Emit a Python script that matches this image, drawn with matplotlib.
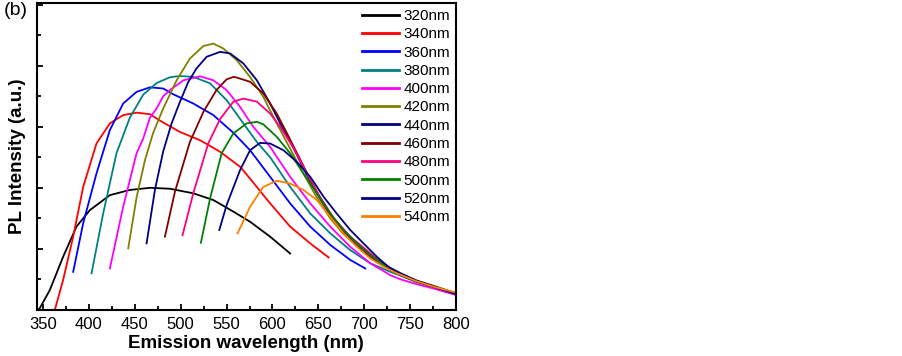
import numpy as np
import matplotlib
matplotlib.use('Agg')
import matplotlib.pyplot as plt
from matplotlib.ticker import MultipleLocator, NullFormatter

plt.rcParams['font.family'] = ['Liberation Sans', 'DejaVu Sans']

# ── Data (x = wavelength nm, y = intensity a.u.) ─────────────────────────────
labels = ['320nm', '340nm', '360nm', '380nm', '400nm', '420nm',
          '440nm', '460nm', '480nm', '500nm', '520nm', '540nm']
colors = ['#000000', '#FF0000', '#0000FF', '#008080', '#FF00FF', '#808000',
          '#000080', '#800000', '#FF0080', '#008000', '#000080', '#FF8000']

x320 = [344.5, 346.4, 357.3, 371.8, 386.4, 401, 422.8, 444.6, 466.5, 488.3,
        513.7, 535.6, 557.4, 575.6, 597.5, 619.3]
y320 = [0.0, 0.06, 0.65, 1.74, 2.73, 3.27, 3.76, 3.93, 4.0, 3.97,
        3.82, 3.6, 3.22, 2.89, 2.4, 1.85]

x340 = [362.7, 363.8, 371.8, 382.8, 393.7, 408.2, 422.8, 437.3, 451.9, 466.5,
        477.4, 499, 521, 542.9, 564.7, 575.6, 597.5, 619.3, 641.2, 661.2]
y340 = [0.0, 0.11, 0.98, 2.4, 4.03, 5.45, 6.11, 6.38, 6.46, 6.41,
        6.2, 5.83, 5.56, 5.18, 4.69, 4.3, 3.49, 2.73, 2.18, 1.72]

x360 = [382.8, 393.7, 408.2, 422.8, 437.3, 451.9, 466.5, 481, 492, 513.7,
        535.6, 557.4, 575.6, 597.5, 619.3, 641.2, 663, 684.8, 701.2]
y360 = [1.25, 2.84, 4.47, 5.89, 6.76, 7.14, 7.29, 7.25, 7.06, 6.76,
        6.38, 5.8, 5.23, 4.36, 3.49, 2.73, 2.13, 1.64, 1.36]

x380 = [402.8, 415.5, 430, 444.6, 459.2, 473.8, 488.3, 499, 513.7, 532,
        550, 568.3, 583, 597.5, 619.3, 641.2, 663, 684.8, 706.6, 728.5,
        740, 758, 776, 800]
y380 = [1.2, 3.16, 5.13, 6.3, 7.05, 7.43, 7.62, 7.66, 7.63, 7.42,
        6.87, 6.11, 5.5, 5.0, 4.03, 3.16, 2.51, 1.96, 1.53, 1.25,
        1.12, 0.9, 0.74, 0.53]

x400 = [422.8, 437.3, 451.9, 459, 466.5, 473.8, 481, 488.3, 503, 521,
        535.6, 550, 564.7, 579, 597.5, 619.3, 641.2, 663, 684.8, 706.6,
        728.5, 740, 758, 776, 800]
y400 = [1.36, 3.38, 5.13, 5.6, 6.3, 6.6, 7.0, 7.2, 7.52, 7.65,
        7.52, 7.2, 6.65, 6.0, 5.34, 4.36, 3.49, 2.73, 2.07, 1.53,
        1.14, 1.0, 0.84, 0.7, 0.49]

x420 = [442.8, 452, 461, 470, 481, 495.6, 510, 524.6, 535.6, 546.5,
        561, 575.6, 590, 604.7, 619, 634, 648, 663, 677, 692,
        706, 721, 740, 758, 776, 800]
y420 = [2.02, 3.7, 4.9, 5.8, 6.6, 7.52, 8.23, 8.64, 8.72, 8.56,
        8.18, 7.63, 6.98, 6.11, 5.3, 4.45, 3.7, 3.0, 2.5, 2.1,
        1.75, 1.48, 1.18, 0.96, 0.79, 0.55]

x440 = [462.8, 472, 481, 490, 499, 508, 517, 528.3, 542.9, 553.8,
        568.3, 583, 597.5, 608.4, 623, 637, 652, 667, 685, 703,
        721, 740, 758, 776, 800]
y440 = [2.18, 3.95, 5.2, 6.1, 6.8, 7.45, 7.9, 8.29, 8.45, 8.4,
        8.07, 7.52, 6.76, 6.11, 5.3, 4.45, 3.65, 2.95, 2.35, 1.9,
        1.5, 1.2, 0.95, 0.78, 0.52]

x460 = [482.8, 493.7, 510, 525, 539, 550, 557.4, 561, 575.6, 590,
        604.7, 619, 634, 648, 663, 677, 692, 706, 721, 740,
        758, 776, 800]
y460 = [2.4, 3.87, 5.5, 6.5, 7.2, 7.55, 7.63, 7.61, 7.47, 7.09,
        6.43, 5.6, 4.7, 3.85, 3.1, 2.55, 2.1, 1.75, 1.45, 1.15,
        0.93, 0.76, 0.55]

x480 = [502, 513.7, 530, 542.9, 557.4, 568.3, 583, 597.5, 608.4, 623,
        637, 652, 667, 685, 703, 721, 740, 758, 776, 800]
y480 = [2.45, 3.82, 5.45, 6.25, 6.82, 6.92, 6.82, 6.43, 6.0, 5.3,
        4.5, 3.7, 3.0, 2.4, 1.95, 1.5, 1.15, 0.93, 0.76, 0.55]

x500 = [522, 532, 544.6, 557.4, 572, 583, 590, 604.7, 619.3, 633.8,
        648.4, 663, 677.5, 692, 706.6, 721, 740, 758, 776, 800]
y500 = [2.2, 3.65, 5.13, 5.78, 6.11, 6.16, 6.08, 5.67, 5.13, 4.47,
        3.82, 3.16, 2.62, 2.18, 1.8, 1.48, 1.15, 0.93, 0.76, 0.55]

x520 = [542.1, 550, 564.7, 575.6, 586.5, 597.5, 612, 626.6, 641.2, 655.7,
        670, 684.8, 699.3, 713.9, 728.5, 740, 758, 776, 800]
y520 = [2.62, 3.43, 4.58, 5.23, 5.47, 5.45, 5.23, 4.85, 4.36, 3.71,
        3.16, 2.62, 2.18, 1.74, 1.36, 1.15, 0.93, 0.76, 0.53]

x540 = [562, 575.6, 590, 604.7, 619.3, 633.8, 648.4, 663, 677.5, 692,
        706.6, 721, 735.8, 758, 776, 800]
y540 = [2.51, 3.38, 4.03, 4.23, 4.14, 3.93, 3.6, 3.05, 2.51, 2.07,
        1.69, 1.42, 1.2, 0.93, 0.76, 0.57]

xs = [x320, x340, x360, x380, x400, x420, x440, x460, x480, x500, x520, x540]
ys = [y320, y340, y360, y380, y400, y420, y440, y460, y480, y500, y520, y540]

# ── Plot ─────────────────────────────────────────────────────────────────────
fig = plt.figure(figsize=(9.03, 3.56), dpi=100)
ax = fig.add_axes([0.0406, 0.1292, 0.4643, 0.8624])

for x, y, c, lab in zip(xs, ys, colors, labels):
    ax.plot(x, y, color=c, lw=1.3, label=lab)

ax.set_xlim(343, 800)
ax.set_ylim(0, 10.05)

ax.xaxis.set_major_locator(MultipleLocator(50))
ax.xaxis.set_minor_locator(MultipleLocator(25))
ax.yaxis.set_major_locator(MultipleLocator(2))
ax.yaxis.set_minor_locator(MultipleLocator(1))
ax.yaxis.set_major_formatter(NullFormatter())
ax.tick_params(axis='both', which='both', direction='in', top=False, right=False)
ax.tick_params(which='major', length=4.5, width=1.3, labelsize=12)
ax.tick_params(which='minor', length=3, width=1.3)
ax.tick_params(axis='x', pad=5)
for s in ax.spines.values():
    s.set_linewidth(1.5)

ax.set_xlabel('Emission wavelength (nm)', fontsize=13.5, fontweight='bold', labelpad=2.5)
ax.set_ylabel('PL Intensity (a.u.)', fontsize=13.5, fontweight='bold', labelpad=4)

leg = ax.legend(loc='upper right', frameon=False, fontsize=11,
                handlelength=2.4, handletextpad=0.3, labelspacing=0.28,
                borderaxespad=0.0, bbox_to_anchor=(1.0, 1.0))
for line in leg.get_lines():
    line.set_linewidth(2.0)

fig.text(0.004, 0.995, '(b)', fontsize=14, ha='left', va='top')

fig.savefig('out.png', dpi=100)
